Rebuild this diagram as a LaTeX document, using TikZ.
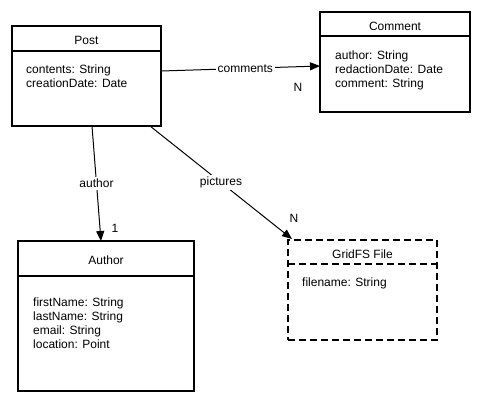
\documentclass[tikz,border=0pt]{standalone}
\usepackage{fontspec}
\setmainfont{Liberation Sans}
\usetikzlibrary{arrows.meta,calc}
\begin{document}
\begin{tikzpicture}[x=1bp,y=-1bp,
  font=\fontsize{12bp}{14bp}\selectfont,
  entity/.style={draw,line width=1.4bp,minimum width=#1,inner sep=0pt,outer sep=0pt},
  dashentity/.style={entity=#1,dash pattern=on 7bp off 4bp},
  conn/.style={line width=1bp,-{Triangle[length=10bp,width=8bp]}},
  lbl/.style={fill=white,inner sep=2bp},
  attrs/.style={anchor=north west,align=left,inner sep=0pt}]
\useasboundingbox (0,0) rectangle (482,403);
% boxes
\node[entity=149bp,minimum height=100bp] (post) at (86.5,76) {};
\node[entity=150bp,minimum height=100bp] (comment) at (395,62) {};
\node[entity=176bp,minimum height=150bp] (author) at (106,316) {};
\node[dashentity=149bp,minimum height=100bp] (gridfs) at (362.5,290) {};
% dividers
\draw[line width=1.4bp] ($(post.north west)+(0,25)$) -- ($(post.north east)+(0,25)$);
\draw[line width=1.4bp] ($(comment.north west)+(0,24)$) -- ($(comment.north east)+(0,24)$);
\draw[line width=1.4bp] ($(author.north west)+(0,35)$) -- ($(author.north east)+(0,35)$);
\draw[line width=1.4bp,dash pattern=on 7bp off 4bp] ($(gridfs.north west)+(0,24)$) -- ($(gridfs.north east)+(0,24)$);
% titles
\node (posttitle) at (86.5,40.5) {Post};
\node (commenttitle) at (395,26.5) {Comment};
\node (authortitle) at (106,260) {Author};
\node (gridfstitle) at (362.5,254) {GridFS File};
% attributes
\node[attrs] (postattrs) at (26,65) {contents: String\\creationDate: Date};
\node[attrs] (commentattrs) at (335,51) {author: String\\redactionDate: Date\\comment: String};
\node[attrs] (authorattrs) at (33,298) {firstName: String\\lastName: String\\email: String\\location: Point};
\node[attrs] (gridfsattrs) at (302,278) {filename: String};
% connectors
\draw[conn] ($(post.east)+(0,-5)$) -- node[lbl,pos=0.53] (lcomments) {comments} ($(comment.west)+(0,4)$);
\draw[conn] ([xshift=5.5bp]post.south) -- node[lbl,pos=0.5] (lauthor) {author} ([xshift=-5bp]author.north);
\draw[conn] ([xshift=-11bp]post.south east) -- node[lbl,pos=0.5] (lpictures) {pictures} ([xshift=4bp,yshift=1bp]gridfs.north west);
% multiplicities
\node (mcomments) at (298,87) {N};
\node (mauthor) at (115,228) {1};
\node (mpictures) at (294,218) {N};
\end{tikzpicture}
\end{document}
